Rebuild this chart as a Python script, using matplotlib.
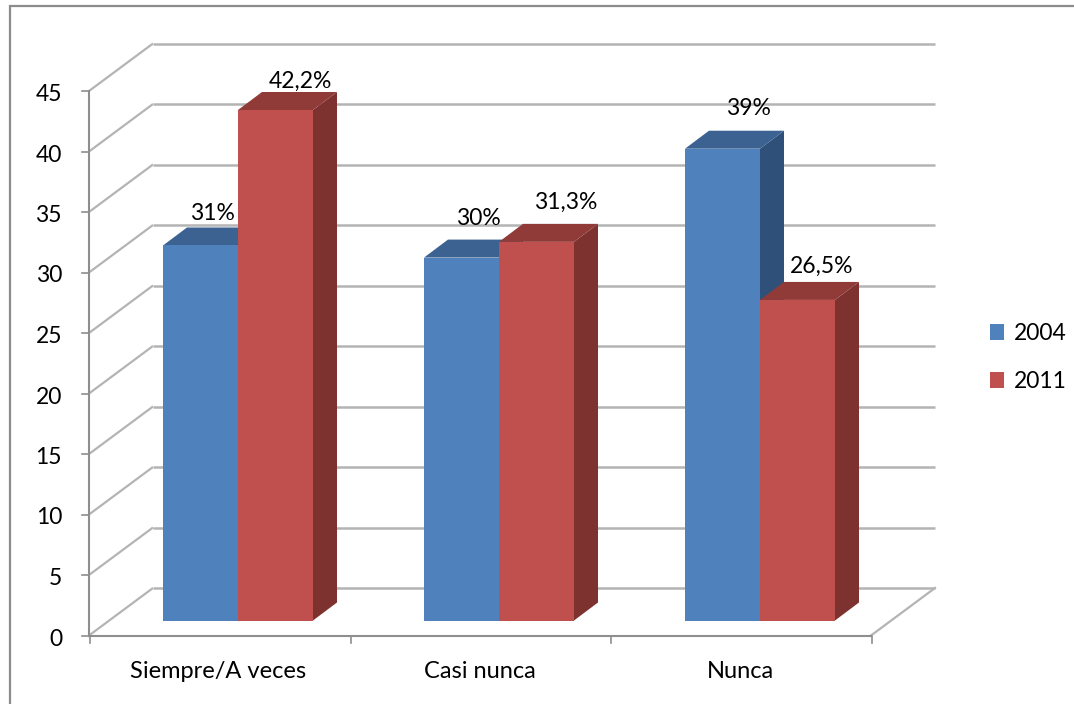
# Excel style 3D clustered columns, faked on a 2D axes with sheared polygons

import matplotlib
matplotlib.use("Agg")
import matplotlib.pyplot as plt
from matplotlib.patches import Polygon, Rectangle

plt.rcParams['font.family'] = ['Lato', 'DejaVu Sans']

categories = ["Siempre/A veces", "Casi nunca", "Nunca"]
years = ["2004", "2011"]
values_2004 = [31, 30, 39]
values_2011 = [42.2, 31.3, 26.5]
labels_2004 = ["31%", "30%", "39%"]
labels_2011 = ["42,2%", "31,3%", "26,5%"]
yticks = [0, 5, 10, 15, 20, 25, 30, 35, 40, 45]

W, H = 1074, 704
fig = plt.figure(figsize=(W / 100, H / 100), dpi=100)
ax = fig.add_axes([0, 0, 1, 1])
ax.set_xlim(0, W)
ax.set_ylim(H, 0)
ax.axis("off")

# pixel geometry
x0, y0 = 89, 635.5
ppu = (635.5 - 91) / 45.0
dx, dy = 64, 47.5
cat_w = (871 - 89) / 3.0
grid_c = "#b4b4b4"
axis_c = "#8e8e8e"
fs = 16.5

# chart frame, only top and left show up in the crop
ax.plot([10, 10, W], [H, 6, 6], color="#8c8c8c", lw=1.6, solid_joinstyle="miter")


def ypix(v):
    return y0 - v * ppu


# walls and gridlines
for v in yticks:
    y = ypix(v)
    ax.plot([x0, x0 + dx], [y, y - dy], color=grid_c, lw=1.6, solid_capstyle="butt")
    ax.plot([x0 + dx, 935], [y - dy, y - dy], color=grid_c, lw=1.8, solid_capstyle="butt")
ax.plot([x0 + cat_w * 3, 935], [y0, y0 - dy], color=grid_c, lw=1.6)
ax.plot([x0, x0 + cat_w * 3], [y0, y0], color=axis_c, lw=1.5)
ax.plot([x0, x0], [y0, ypix(45)], color=axis_c, lw=1.5)

# ticks and tick labels
for v in yticks:
    ax.plot([x0 - 7, x0], [ypix(v), ypix(v)], color=axis_c, lw=1.2)
    ax.text(62, ypix(v) + 3.5, str(v), ha="right", va="center", fontsize=fs, color="black")
for i in range(4):
    xt = x0 + 1 + cat_w * i
    ax.plot([xt, xt], [y0, y0 + 7], color=axis_c, lw=1.2)
label_x = [218, 480, 740]
for name, x in zip(categories, label_x):
    ax.text(x, 672, name, ha="center", va="center", fontsize=17, color="black")

# bars
bar_w = 75
depth_x, depth_y = 24, 18
base_y = 620.5
starts = [163, 424, 685]


def draw_bar(x, v, front, top, side):
    t = base_y - v * (base_y - 110) / 42.2
    ax.add_patch(Polygon([(x + bar_w, base_y), (x + bar_w + depth_x, base_y - depth_y),
                          (x + bar_w + depth_x, t - depth_y), (x + bar_w, t)],
                         fc=side, ec="none", zorder=3))
    ax.add_patch(Polygon([(x, t), (x + depth_x, t - depth_y),
                          (x + bar_w + depth_x, t - depth_y), (x + bar_w, t)],
                         fc=top, ec="none", zorder=3))
    ax.add_patch(Rectangle((x, t), bar_w, base_y - t, fc=front, ec="none", zorder=4))
    return t


blue = ("#4f81bd", "#3c6292", "#2f5078")
red = ("#c0504d", "#913b39", "#7d3230")

# data label offsets from the bar corner, as placed in the original
off_2004 = [(49, -32), (54, -39), (63, -40)]
off_2011 = [(62, -29), (67, -40), (62, -34)]

for i in range(3):
    x = starts[i]
    t1 = draw_bar(x, values_2004[i], *blue)
    t2 = draw_bar(x + bar_w, values_2011[i], *red)
    ax.text(x + off_2004[i][0], t1 + off_2004[i][1], labels_2004[i], ha="center", va="center",
            fontsize=fs, zorder=6)
    ax.text(x + bar_w + off_2011[i][0], t2 + off_2011[i][1], labels_2011[i], ha="center", va="center",
            fontsize=fs, zorder=6)

# legend
for y, c, name in zip([332, 380], [blue[0], red[0]], years):
    ax.add_patch(Rectangle((990, y - 8), 14, 16, fc=c, ec="none"))
    ax.text(1014, y + 1, name, ha="left", va="center", fontsize=fs)

fig.savefig("out.png", dpi=100)
